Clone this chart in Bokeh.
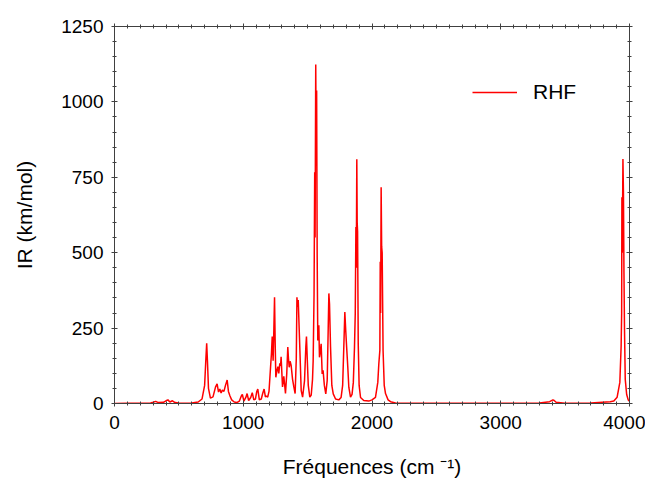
from bokeh.plotting import figure
from bokeh.models import (Range1d, LinearAxis, SingleIntervalTicker, Legend, LegendItem,
                          CustomJSTickFormatter)
from bokeh.embed import file_html
from bokeh.resources import INLINE

# IR spectrum trace (RHF), vertices
freq = [0, 100, 200, 280, 300, 320, 340, 380, 400, 415, 430, 450, 470, 500, 550, 600, 650,
        680, 700, 710, 716, 722, 730, 745, 765, 785, 797, 808, 818, 828, 838, 850, 862, 875,
        885, 897, 910, 930, 950, 970, 985, 993, 1005, 1020, 1030, 1042, 1058, 1070, 1082,
        1095, 1105, 1113, 1125, 1140, 1152, 1162, 1172, 1180, 1190,
        1200, 1212, 1219, 1225, 1232, 1238, 1243, 1248, 1253, 1262, 1269, 1276, 1284, 1290,
        1294, 1300, 1305, 1315, 1322, 1328, 1338, 1346, 1351, 1357, 1364, 1372, 1383, 1393,
        1403, 1412, 1417, 1422, 1427, 1440, 1450, 1461, 1476, 1486, 1491, 1497, 1505, 1517,
        1528, 1538, 1543, 1550, 1555, 1558, 1563, 1566, 1570, 1574, 1579, 1583, 1587, 1592,
        1598, 1605, 1613, 1620, 1630, 1641, 1652, 1660, 1665, 1670, 1678, 1688, 1699, 1717,
        1742, 1760, 1772, 1781, 1789, 1796, 1803, 1808, 1812, 1820, 1833, 1845, 1855, 1864,
        1870, 1875, 1878, 1882, 1885, 1888, 1893, 1900, 1911, 1936, 1975, 2000, 2027, 2045,
        2053, 2061, 2064, 2067, 2071, 2075, 2079, 2086, 2095, 2105, 2125, 2144, 2183, 2300,
        2500, 3000, 3300, 3380, 3405, 3415, 3430, 3500, 3700, 3850, 3878, 3904, 3925, 3935,
        3939, 3941, 3944, 3949, 3953, 3957, 3961, 3967, 3978, 3990, 4000]
ir = [0, 1, 1, 2, 4, 7, 3, 4, 9, 12, 5, 9, 3, 2, 1, 2, 5,
      15, 60, 150, 200, 140, 50, 18, 22, 55, 65, 38, 48, 35, 45, 40, 60, 78,
      40, 25, 12, 5, 3, 8, 25, 30, 8, 20, 33, 10, 20, 36, 12,
      15, 40, 48, 12, 15, 35, 48, 22, 25, 21,
      40, 120, 166, 222, 142, 250, 352, 200, 87, 110, 122, 100, 133, 125,
      155, 100, 55, 90, 60, 33, 100, 187, 150, 120, 140, 126, 80, 55,
      33, 150, 352, 320, 343, 176, 43, 21, 76, 187, 222, 150, 60, 21,
      28, 80, 142, 364, 767, 550, 1124, 900, 1038, 500, 209, 230, 259, 153,
      170, 198, 98, 110, 60, 32, 76, 250, 365, 330, 187, 60, 32, 15,
      12, 20, 60, 187, 303, 242, 187, 150, 120, 54, 21, 30, 70, 187,
      300, 585, 450, 810, 600, 570, 200, 60, 20, 10, 8, 12, 20, 70,
      132, 176, 470, 300, 717, 520, 500, 176, 60, 33, 12, 6, 2, 1,
      1, 1, 2, 6, 12, 10, 4, 1, 2, 6, 8, 21, 70, 190,
      300, 684, 500, 811, 700, 435, 250, 80, 30, 12, 8]

x_ticks_interval = 1000
y_ticks_interval = 250
series_name = "RHF"

FONT = "Liberation Sans"
AXIS_COLOR = "#404040"

p = figure(width=645, height=480, output_backend="svg", toolbar_location=None,
           x_range=Range1d(0, 4000), y_range=Range1d(0, 1250))
p.min_border_left = 114
p.min_border_top = 26
p.min_border_right = 16
p.min_border_bottom = 10
p.xgrid.visible = False
p.ygrid.visible = False
p.outline_line_color = AXIS_COLOR
p.background_fill_color = "white"
p.border_fill_color = "white"

r = p.line(freq, ir, line_color="#ff0000", line_width=1.5)

def style_axis(ax, labels=True):
    ax.axis_line_color = AXIS_COLOR
    ax.major_tick_line_color = AXIS_COLOR
    ax.minor_tick_line_color = AXIS_COLOR
    ax.major_tick_in = 3
    ax.major_tick_out = 3
    ax.minor_tick_in = 2
    ax.minor_tick_out = 2
    ax.major_label_text_font = FONT
    ax.major_label_text_font_size = "19px"
    ax.major_label_text_color = "#000000"
    ax.axis_label_text_font = FONT
    ax.axis_label_text_font_size = "21px"
    ax.axis_label_text_font_style = "normal"
    ax.axis_label_text_color = "#000000"
    if not labels:
        ax.formatter = CustomJSTickFormatter(code="return '';")
        ax.major_label_standoff = 0

xt = SingleIntervalTicker(interval=x_ticks_interval, num_minor_ticks=10)
yt = SingleIntervalTicker(interval=y_ticks_interval, num_minor_ticks=5)

p.xaxis.ticker = xt
p.yaxis.ticker = yt
style_axis(p.xaxis[0])
style_axis(p.yaxis[0])
p.xaxis.axis_label = "Fréquences (cm ⁻¹)"
p.yaxis.axis_label = "IR (km/mol)"
p.xaxis.major_label_standoff = 9
p.xaxis.axis_label_standoff = 23
p.yaxis.major_label_standoff = 8
p.yaxis.axis_label_standoff = 22

top = LinearAxis(ticker=SingleIntervalTicker(interval=x_ticks_interval, num_minor_ticks=10))
style_axis(top, labels=False)
p.add_layout(top, "above")
right = LinearAxis(ticker=SingleIntervalTicker(interval=y_ticks_interval, num_minor_ticks=5))
style_axis(right, labels=False)
p.add_layout(right, "right")

legend = Legend(items=[LegendItem(label=series_name, renderers=[r])],
                location=(358, 299))
legend.border_line_color = None
legend.background_fill_alpha = 0
legend.label_text_font = FONT
legend.label_text_font_size = "21px"
legend.label_text_color = "#000000"
legend.glyph_width = 45
legend.glyph_height = 20
legend.label_height = 20
legend.label_standoff = 16
legend.padding = 0
legend.margin = 0
legend.spacing = 0
p.add_layout(legend)

open("out.html", "w").write(file_html(p, INLINE))
